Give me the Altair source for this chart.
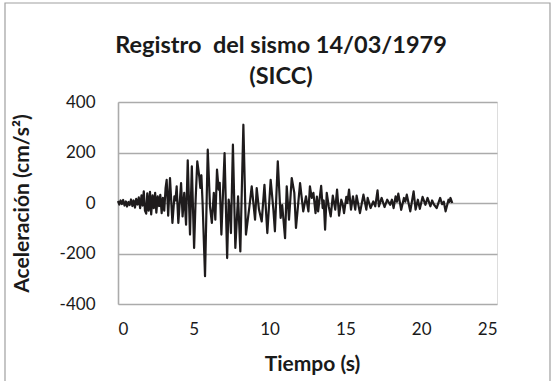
import altair as alt
import pandas as pd

# Time (s) and acceleration (cm/s^2) read from the record
t_noise = [0.00, 0.09, 0.17, 0.26, 0.34, 0.43, 0.52, 0.60, 0.69, 0.77, 0.86, 0.95,
           1.03, 1.12, 1.20, 1.29, 1.37]
a_noise = [8, -6, 10, -4, 12, -10, 6, -14, 4, -8, 14, -12, 10, -18, 16, -6, 22]

t_early = [1.46, 1.55, 1.63, 1.70, 1.78, 1.86, 1.93, 2.02, 2.11, 2.19, 2.28, 2.36,
           2.45, 2.53, 2.62, 2.71, 2.79, 2.88, 2.96, 3.05, 3.14]
a_early = [-20, 30, -10, 46, -30, -42, 38, -30, 44, -45, 30, -20, 40, -38, 26, -12,
           32, -40, 20, -30, 60]

t_strong = [3.21, 3.31, 3.43, 3.59, 3.72, 3.79, 3.87, 3.98, 4.16, 4.26, 4.37, 4.49,
            4.60, 4.75, 4.87, 5.02, 5.12, 5.23, 5.36, 5.43, 5.50, 5.58, 5.74, 5.92,
            6.07, 6.19, 6.32, 6.42, 6.53, 6.64, 6.71, 6.82, 7.03, 7.20, 7.30, 7.37,
            7.45, 7.58, 7.74, 7.92, 8.07, 8.27, 8.44]
a_strong = [92, -50, 99, -79, 26, 10, 66, -79, 79, -53, 40, -86,
            169, -125, 145, -178, 13, 165, 105, 60, 110, 0, -290, 211,
            -13, -79, 40, -66, 132, 53, 80, -125, 198, -218, 13, -20,
            -119, 231, -178, 26, -192, 310, -125]

t_coda = [8.67, 8.82, 9.04, 9.15, 9.30, 9.48, 9.66, 9.85, 10.07, 10.25, 10.35, 10.54,
          10.73, 10.83, 11.02, 11.13, 11.28, 11.46, 11.63, 11.74, 12.01, 12.22, 12.40,
          12.56, 12.66, 12.78, 12.89, 13.03, 13.12, 13.20, 13.40, 13.50, 13.57, 13.66,
          13.77, 13.90, 14.03, 14.17, 14.33, 14.45, 14.58, 14.73, 14.82, 14.91, 15.06,
          15.13, 15.24, 15.37, 15.50, 15.65, 15.74, 15.96]
a_coda = [-13, 66, -66, 59, -26, -73, 72, -119, 92, -26, -112, 165,
          -59, -8, -139, 66, -66, 99, 40, -99, 79, -33, 26,
          -33, 66, 20, 40, -40, 25, -33, 68, -20, 10, -106,
          40, -13, -53, 29, -26, 53, -50, 13, -5, -40, 24,
          0, 53, -26, 26, -26, 29, -40]

t_tail = [16.19, 16.38, 16.47, 16.66, 16.84, 16.97, 17.12, 17.21, 17.39, 17.58, 17.76,
          17.95, 18.07, 18.18, 18.31, 18.40, 18.49, 18.68, 18.86, 18.95, 19.05, 19.28,
          19.50, 19.63, 19.78, 19.91, 20.09, 20.28, 20.42, 20.61, 20.72, 20.83, 21.02,
          21.25, 21.38, 21.49, 21.61, 21.80, 21.87, 21.93, 22.05]
a_tail = [33, -26, 20, -20, 6, -13, 50, -13, 20, -16, 13,
          -7, 13, -20, 26, 5, 37, -27, 20, 5, 33, -33,
          46, -26, 13, -23, 24, -7, 20, -13, 10, -5, -20,
          20, -5, 5, -33, 13, 5, 20, 0]

tiempo = t_noise + t_early + t_strong + t_coda + t_tail
acel = a_noise + a_early + a_strong + a_coda + a_tail

title_lines = ["Registro\u00a0 del sismo 14/03/1979", "(SICC)"]
x_title = "Tiempo (s)"
y_title = "Aceleración (cm/s²)"
x_ticks = [0, 5, 10, 15, 20, 25]
y_ticks = [-400, -200, 0, 200, 400]

df = pd.DataFrame({"t": tiempo, "a": acel})

FONT = "Lato"
GRID = "#ababab"
INK = "#1a1a1a"
W, H = 379, 202

line = alt.Chart(df).mark_line(color="#1e1b1c", strokeWidth=2.2, strokeJoin="round").encode(
    x=alt.X("t:Q", scale=alt.Scale(domain=[0, 25], nice=False, zero=False),
            axis=alt.Axis(values=x_ticks, title=x_title, grid=False, domain=False,
                          ticks=False, labelPadding=17, labelFontSize=17,
                          labelFont=FONT, labelColor=INK, titleFont=FONT,
                          titleFontSize=21, titleFontWeight="bold", titleColor=INK,
                          titleX=194, titleY=60, titleAlign="center",
                          titleBaseline="middle")),
    y=alt.Y("a:Q", scale=alt.Scale(domain=[-400, 400], nice=False),
            axis=alt.Axis(values=y_ticks, title=y_title, grid=True,
                          gridColor=GRID, gridWidth=1.6, domain=True, domainColor=GRID,
                          domainWidth=1.6, ticks=False, labelPadding=23,
                          labelExpr="'' + datum.value",
                          labelFontSize=17, labelFont=FONT, labelColor=INK,
                          titleFont=FONT, titleFontSize=21, titleFontWeight="bold",
                          titleColor=INK, titleX=-96, titleY=101,
                          titleAlign="center", titleBaseline="middle", titleAngle=270)),
    order="t:Q",
)

frame = alt.Chart(pd.DataFrame({"k": [0]})).mark_rect(
    fill=None, stroke="#a0a0a0", strokeWidth=1.2
).encode(
    x=alt.value(-113), x2=alt.value(432), y=alt.value(-99), y2=alt.value(290)
)

title1 = alt.Chart(pd.DataFrame({"s": [title_lines[0]]})).mark_text(
    font=FONT, fontSize=23.5, fontWeight="bold", color=INK, align="center", baseline="middle"
).encode(text="s:N", x=alt.value(163), y=alt.value(-56))

title2 = alt.Chart(pd.DataFrame({"s": [title_lines[1]]})).mark_text(
    font=FONT, fontSize=23.5, fontWeight="bold", color=INK, align="center", baseline="middle"
).encode(text="s:N", x=alt.value(163), y=alt.value(-25))

chart = alt.layer(frame, title1, title2, line).properties(
    width=W,
    height=H,
    autosize=alt.AutoSizeParams(type="none"),
    padding={"left": 118, "top": 102, "right": 555 - 118 - W, "bottom": 381 - 102 - H},
).configure_view(stroke=None).configure(background="white")

chart.save("out.html", embed_options={"renderer": "svg", "actions": False})
